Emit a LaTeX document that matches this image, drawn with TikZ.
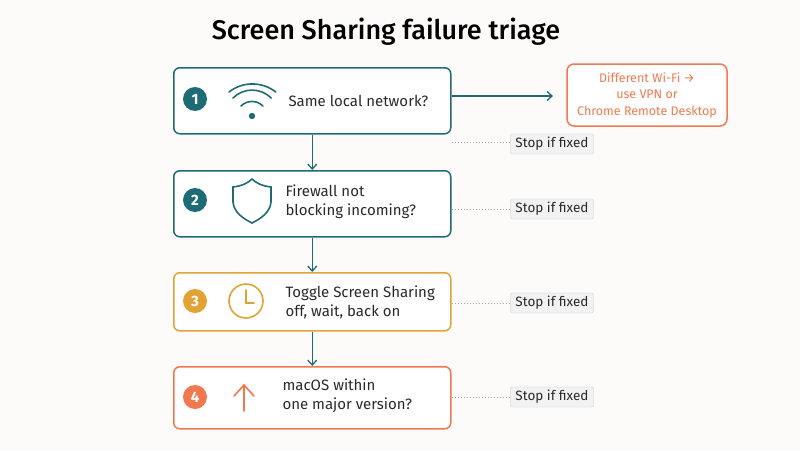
\documentclass[tikz,border=0pt]{standalone}
\usepackage{fontspec}
\setmainfont{Fira Sans}
\usetikzlibrary{arrows.meta}
\definecolor{teal1}{HTML}{1F6B75}
\definecolor{gold1}{HTML}{E3A334}
\definecolor{coral1}{HTML}{F2794F}
\definecolor{bg}{HTML}{FDFBFA}
\definecolor{ink}{HTML}{2A2A2A}
\tikzset{
  stepbox/.style={draw=#1,line width=1.5pt,rounded corners=6pt,fill=white,minimum width=277pt,anchor=north west},
  num/.style={circle,fill=#1,text=white,minimum size=24pt,inner sep=0pt,font=\bfseries\fontsize{15}{15}\selectfont},
  lab/.style={text=ink,align=left,anchor=west,font=\fontsize{15}{19}\selectfont},
  stopbox/.style={draw=gray!40,fill=gray!10,rounded corners=2pt,text=ink,font=\fontsize{13.5}{15}\selectfont,minimum height=19pt,inner xsep=5pt},
  flow/.style={draw=teal1,line width=1.3pt,-{Straight Barb[length=5pt,width=9pt]}},
  dots/.style={draw=gray!70,line width=1pt,dotted}
}
\begin{document}
\begin{tikzpicture}[x=1pt,y=-1pt]
\fill[bg] (0,0) rectangle (800,450);
\useasboundingbox (0,0) rectangle (800,450);
\node (title) at (386,32) {\fontsize{27}{30}\selectfont\fontspec{Fira Sans Medium} Screen Sharing failure triage};
% boxes
\node[stepbox=teal1,minimum height=66pt] (b1) at (173,67) {};
\node[stepbox=teal1,minimum height=66pt] (b2) at (173,170) {};
\node[stepbox=gold1,minimum height=58pt] (b3) at (173,272) {};
\node[stepbox=coral1,minimum height=62pt] (b4) at (173,366) {};
% numbers
\node[num=teal1] (n1) at (195,99) {1};
\node[num=teal1] (n2) at (195,200) {2};
\node[num=gold1] (n3) at (195,301) {3};
\node[num=coral1] (n4) at (195,397) {4};
% icons
\begin{scope}[teal1,line width=1.6pt,line cap=round]
\fill (252,116) circle (3.2pt);
\draw (241,106) arc[start angle=135,end angle=45,radius=15.5pt];
\draw (233,98) arc[start angle=135,end angle=45,radius=27pt];
\draw (229,92) arc[start angle=128,end angle=52,radius=38pt];
\draw (233,187) .. controls (242,186) and (248,183) .. (252,179) .. controls (256,183) and (262,186) .. (271,187) -- (271,202) .. controls (270,212) and (262,218) .. (252,223) .. controls (242,218) and (234,212) .. (233,202) -- cycle;
\end{scope}
\draw[gold1,line width=1.6pt] (246,301) circle (17pt);
\draw[gold1,line width=1.6pt,line cap=round] (246,290) -- (246,303) -- (254,303);
\draw[coral1,line width=1.6pt,line cap=round] (244,411) -- (244,386) (234,396) -- (244,385) -- (254,396);
% labels
\node[lab] (t1) at (285,101) {Same local network?};
\node[lab] (t2) at (282,202) {Firewall not\\blocking incoming?};
\node[lab] (t3) at (282,302) {Toggle Screen Sharing\\off, wait, back on};
\node[lab] (t4) at (279,396) {macOS within\\one major version?};
% flow
\draw[flow] (b1.south) -- (b2.north);
\draw[flow] (b2.south) -- (b3.north);
\draw[flow] (b3.south) -- (b4.north);
% side note
\node[draw=coral1,line width=1.5pt,rounded corners=7pt,fill=white,text=coral1,align=center,minimum width=160pt,minimum height=62pt,font=\fontsize{12.5}{16.5}\selectfont] (side) at (647,95) {Different Wi-Fi →\\use VPN or\\Chrome Remote Desktop};
\draw[flow] (b1.east |- 0,96) coordinate (c0) -- (553,96) coordinate (c1);
% stop boxes
\node[stopbox] (s1) at (552,144) {Stop if fixed};
\node[stopbox] (s2) at (552,209) {Stop if fixed};
\node[stopbox] (s3) at (552,303) {Stop if fixed};
\node[stopbox] (s4) at (552,397) {Stop if fixed};
\coordinate (d1) at (452,142);
\draw[dots] (d1) -- (s1.west |- d1);
\draw[dots] (b2.east |- s2) -- (s2.west);
\draw[dots] (b3.east |- s3) -- (s3.west);
\draw[dots] (b4.east |- s4) -- (s4.west);
\end{tikzpicture}
\end{document}
